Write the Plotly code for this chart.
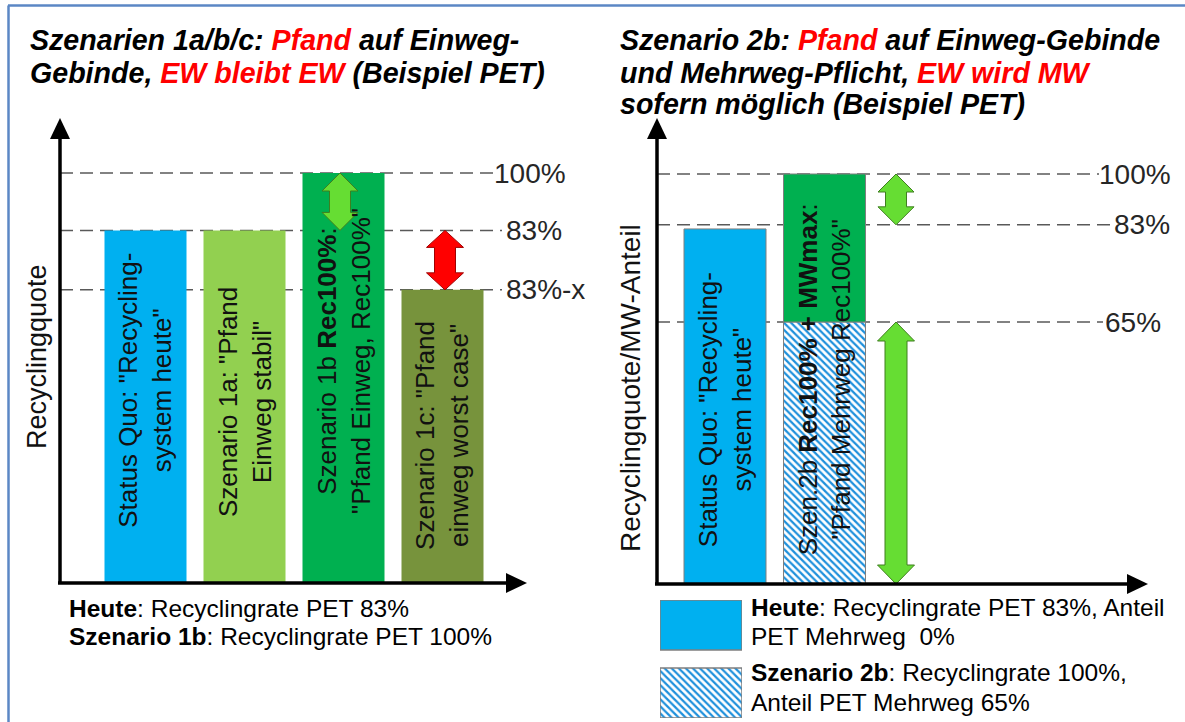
import plotly.graph_objects as go

W, H = 1185, 722
FONT = "Liberation Sans, Arial, sans-serif"

# ---------------- data ----------------
left_positions = [0, 1, 2, 3]
left_values = [86, 86, 100, 71.5]          # schematic heights (% scale)
left_colors = ["#00b0f0", "#92d050", "#00b050", "#77933c"]
left_texts = [
    'Status Quo: "Recycling-<br>system heute"',
    'Szenario 1a: "Pfand<br>Einweg stabil"',
    'Szenario 1b <b>Rec100%</b>:<br>"Pfand Einweg, Rec100%"',
    'Szenario 1c: "Pfand<br>einweg worst case"',
]
left_levels = [100, 86, 71.5]
left_level_labels = ["100%", "83%", "83%-x"]

right_positions = [0, 1]
right_sq_value = 86.6
right_mw_value = 63.9        # Mehrweg share (hatched)
right_rec_value = 100        # total recycling
right_texts = [
    'Status Quo: "Recycling-<br>system heute"',
    'Szen.2b <b>Rec100% + MWmax</b>:<br>"Pfand Mehrweg Rec100%"',
]
right_levels = [100, 87.6, 63.9]
right_level_labels = ["100%", "83%", "65%"]

RED = "<span style='color:#ff0000'>%s</span>"
left_title_lines = [
    "<b><i>Szenarien 1a/b/c: " + RED % "Pfand" + " auf Einweg-</i></b>",
    "<b><i>Gebinde, " + RED % "EW bleibt EW" + " (Beispiel PET)</i></b>",
]
right_title_lines = [
    "<b><i>Szenario 2b: " + RED % "Pfand" + " auf Einweg-Gebinde</i></b>",
    "<b><i>und Mehrweg-Pflicht, " + RED % "EW wird MW" + "</i></b>",
    "<b><i>sofern möglich (Beispiel PET)</i></b>",
]
left_note_lines = [
    "<b>Heute</b>: Recyclingrate PET 83%",
    "<b>Szenario 1b</b>: Recyclingrate PET 100%",
]
right_legend_lines = [
    "<b>Heute</b>: Recyclingrate PET 83%, Anteil",
    "PET Mehrweg  0%",
    "<b>Szenario 2b</b>: Recyclingrate 100%,",
    "Anteil PET Mehrweg 65%",
]

# ---------------- geometry helpers ----------------
def px(x):
    return x / W

def py(y):
    return 1 - y / H

L_X0, L_X1, L_C0, L_DX = 60, 527, 145.5, 99.0
L_Y0, L_YT = 583, 118
R_X0, R_X1, R_C0, R_DX = 657, 1148, 725, 99.5
R_Y0, R_YT = 584, 118
SY = 4.1
HATCH_BLUE = "#1e90dc"

fig = go.Figure()

fig.add_trace(go.Bar(
    x=left_positions, y=left_values, width=82 / L_DX,
    marker=dict(color=left_colors, line=dict(width=0)),
    xaxis="x", yaxis="y", showlegend=False, hoverinfo="skip"))

fig.add_trace(go.Bar(
    x=[right_positions[0]], y=[right_sq_value], width=82 / R_DX,
    marker=dict(color="#00b0f0", line=dict(color="#7f7f7f", width=1)),
    xaxis="x2", yaxis="y2", showlegend=False, hoverinfo="skip"))
fig.add_trace(go.Bar(
    x=[right_positions[1]], y=[right_mw_value], width=82 / R_DX,
    marker=dict(color=HATCH_BLUE, line=dict(color="#7f7f7f", width=1),
                pattern=dict(shape="\\", fgcolor=HATCH_BLUE, bgcolor="white",
                             fgopacity=1, size=5, solidity=0.45)),
    xaxis="x2", yaxis="y2", showlegend=False, hoverinfo="skip"))
fig.add_trace(go.Bar(
    x=[right_positions[1]], y=[right_rec_value - right_mw_value], base=[right_mw_value],
    width=82 / R_DX,
    marker=dict(color="#00b050", line=dict(color="#7f7f7f", width=1)),
    xaxis="x2", yaxis="y2", showlegend=False, hoverinfo="skip"))

# legend swatches (own small axes)
fig.add_trace(go.Bar(
    x=[0.5], y=[50], base=[68], width=[1],
    marker=dict(color="#00b0f0", line=dict(color="#7f7f7f", width=1.5)),
    xaxis="x3", yaxis="y3", showlegend=False, hoverinfo="skip"))
fig.add_trace(go.Bar(
    x=[0.5], y=[50], base=[0], width=[1],
    marker=dict(color=HATCH_BLUE, line=dict(color="#7f7f7f", width=1.5),
                pattern=dict(shape="\\", fgcolor=HATCH_BLUE, bgcolor="white",
                             fgopacity=1, size=5, solidity=0.45)),
    xaxis="x3", yaxis="y3", showlegend=False, hoverinfo="skip"))

shapes = []
annotations = []

def add_levels(levels, labels, xref, yref, x_start, ends, label_x, size):
    for lv, lab, e, lx_ in zip(levels, labels, ends, label_x):
        shapes.append(dict(type="line", xref=xref, yref=yref, x0=x_start, x1=e, y0=lv, y1=lv,
                           line=dict(color="#595959", width=1.5, dash="13px,7px"), layer="below"))
        annotations.append(dict(xref=xref, yref=yref, x=lx_, y=lv, text=lab, showarrow=False,
                                xanchor="left", yanchor="middle",
                                font=dict(size=size, color="#262626", family=FONT)))

lx = lambda p: (p - L_C0) / L_DX
rx = lambda p: (p - R_C0) / R_DX
add_levels(left_levels, left_level_labels, "x", "y", lx(L_X0),
           [lx(494), lx(502), lx(502)], [lx(492), lx(504), lx(504)], 28)
add_levels(right_levels, right_level_labels, "x2", "y2", rx(R_X0),
           [rx(1099), rx(1110), rx(1103)], [rx(1097), rx(1112), rx(1103)], 28)

def dbl_arrow(xref, yref, xc, y_top, y_bot, dx, head_w, shaft_w, head_len, fill, line):
    hw = head_w / 2 / dx
    sw = shaft_w / 2 / dx
    hl = head_len / SY
    pts = [(xc, y_top), (xc + hw, y_top - hl), (xc + sw, y_top - hl), (xc + sw, y_bot + hl),
           (xc + hw, y_bot + hl), (xc, y_bot), (xc - hw, y_bot + hl), (xc - sw, y_bot + hl),
           (xc - sw, y_top - hl), (xc - hw, y_top - hl)]
    path = "M " + " L ".join(f"{a},{b}" for a, b in pts) + " Z"
    shapes.append(dict(type="path", xref=xref, yref=yref, path=path,
                       fillcolor=fill, line=dict(color=line, width=1), layer="above"))

dbl_arrow("x", "y", lx(340), left_levels[0], left_levels[1], L_DX, 36, 21, 18, "#66dd33", "#3f7f1f")
dbl_arrow("x", "y", lx(445), left_levels[1], left_levels[2], L_DX, 37, 21, 17, "#ff0000", "#a00000")
dbl_arrow("x2", "y2", rx(896), right_levels[0], right_levels[1], R_DX, 36, 21, 18, "#66dd33", "#3f7f1f")
dbl_arrow("x2", "y2", rx(896), right_mw_value, 0, R_DX, 37, 22, 19, "#66dd33", "#3f7f1f")

def axis_arrows(x0, y0, xt, yt):
    shapes.append(dict(type="line", xref="paper", yref="paper", x0=px(x0), y0=py(y0),
                       x1=px(x0), y1=py(yt + 18), line=dict(color="black", width=3.5)))
    shapes.append(dict(type="line", xref="paper", yref="paper", x0=px(x0 - 2), y0=py(y0),
                       x1=px(xt - 18), y1=py(y0), line=dict(color="black", width=3.5)))
    shapes.append(dict(type="path", xref="paper", yref="paper",
                       path=f"M {px(x0)},{py(yt)} L {px(x0 + 10)},{py(yt + 21)} L {px(x0 - 10)},{py(yt + 21)} Z",
                       fillcolor="black", line=dict(width=0)))
    shapes.append(dict(type="path", xref="paper", yref="paper",
                       path=f"M {px(xt)},{py(y0)} L {px(xt - 21)},{py(y0 - 10)} L {px(xt - 21)},{py(y0 + 10)} Z",
                       fillcolor="black", line=dict(width=0)))

axis_arrows(L_X0, L_Y0, L_X1, L_YT)
axis_arrows(R_X0, R_Y0, R_X1, R_YT)

left_text_centers = [47, 44, 54, 36]
for xp, t, c in zip(left_positions, left_texts, left_text_centers):
    annotations.append(dict(xref="x", yref="y", x=xp, y=c, text=t, textangle=-90, showarrow=False,
                            xanchor="center", yanchor="middle",
                            font=dict(size=26, color="#111111", family=FONT), align="center"))
right_text_centers = [42.4, 49.8]
for xp, t, c in zip(right_positions, right_texts, right_text_centers):
    annotations.append(dict(xref="x2", yref="y2", x=xp, y=c, text=t, textangle=-90, showarrow=False,
                            xanchor="center", yanchor="middle",
                            font=dict(size=26, color="#111111", family=FONT), align="center"))

annotations.append(dict(xref="paper", yref="paper", x=px(37), y=py(357), text="Recyclingquote",
                        textangle=-90, showarrow=False, xanchor="center", yanchor="middle",
                        font=dict(size=27, color="#111111", family=FONT)))
annotations.append(dict(xref="paper", yref="paper", x=px(630), y=py(388), text="Recyclingquote/MW-Anteil",
                        textangle=-90, showarrow=False, xanchor="center", yanchor="middle",
                        font=dict(size=28, color="#111111", family=FONT)))

def text_lines(lines, x, ys, size):
    for t, y in zip(lines, ys):
        annotations.append(dict(xref="paper", yref="paper", x=px(x), y=py(y), xanchor="left",
                                yanchor="middle", align="left", showarrow=False, text=t,
                                font=dict(size=size, color="black", family=FONT)))

text_lines(left_title_lines, 28, [40, 73], 28.6)
text_lines(right_title_lines, 618, [40, 73, 104], 28.6)
text_lines(left_note_lines, 67, [608, 636], 24.5)
text_lines(right_legend_lines, 749, [607, 636, 672, 702], 24.5)

shapes.append(dict(type="line", xref="paper", yref="paper", x0=px(8), x1=1, y0=py(5.5), y1=py(5.5),
                   line=dict(color="#5b87c5", width=2.5)))
shapes.append(dict(type="line", xref="paper", yref="paper", x0=px(8.5), x1=px(8.5), y0=0, y1=py(5.5),
                   line=dict(color="#5b87c5", width=2.5)))

hidden = dict(visible=False, showgrid=False, zeroline=False, fixedrange=True)
fig.update_layout(
    width=W, height=H, margin=dict(l=0, r=0, t=0, b=0),
    paper_bgcolor="white", plot_bgcolor="rgba(0,0,0,0)",
    barmode="overlay", showlegend=False,
    xaxis=dict(domain=[px(L_X0), px(L_X1)], range=[lx(L_X0), lx(L_X1)], **hidden),
    yaxis=dict(domain=[py(L_Y0), py(L_YT)], range=[0, (L_Y0 - L_YT) / SY], **hidden),
    xaxis2=dict(domain=[px(R_X0), px(R_X1)], range=[rx(R_X0), rx(R_X1)], anchor="y2", **hidden),
    yaxis2=dict(domain=[py(R_Y0), py(R_YT)], range=[0, (R_Y0 - R_YT) / SY], anchor="x2", **hidden),
    xaxis3=dict(domain=[px(660), px(742)], range=[0, 1], anchor="y3", **hidden),
    yaxis3=dict(domain=[py(718), py(600)], range=[0, 118], anchor="x3", **hidden),
    shapes=shapes, annotations=annotations,
)

fig.write_html("out.html")
